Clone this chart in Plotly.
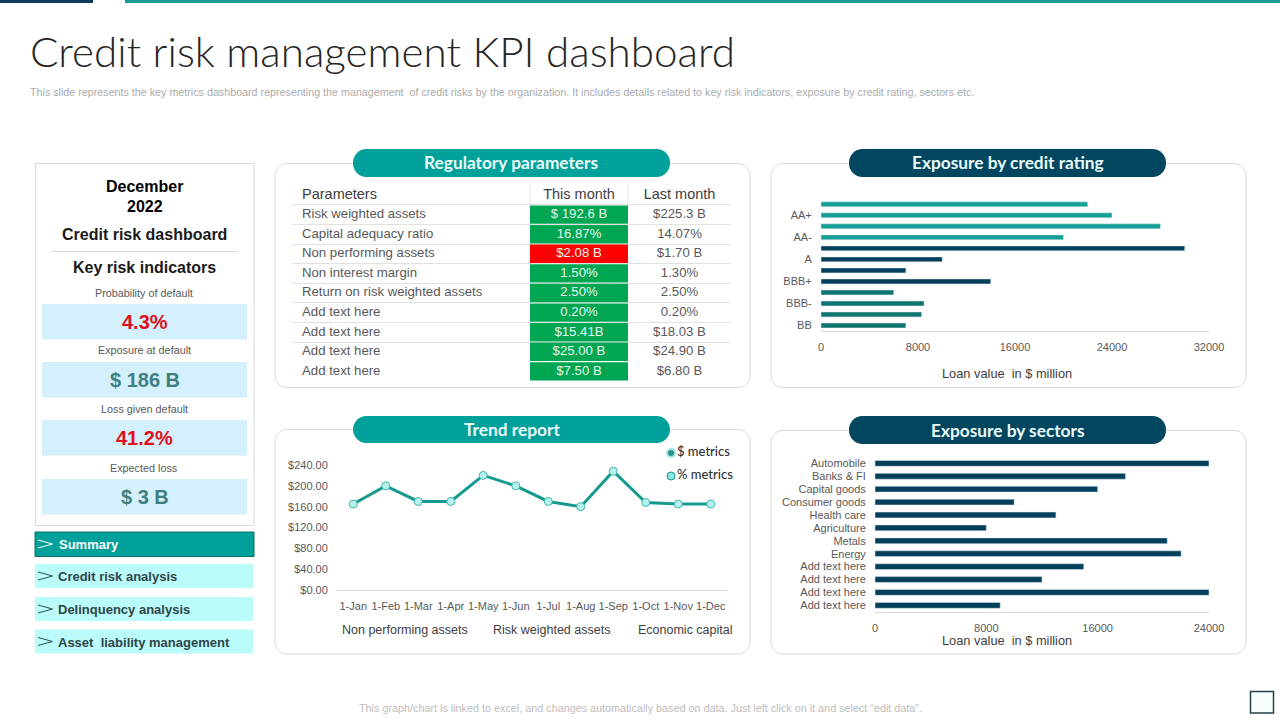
import plotly.graph_objects as go

W = 1280
H = 720

TEAL = '#00a19a'
NAVY = '#03465f'
GRAY = '#595959'
CARD = '#d9d9d9'
SANS = 'Liberation Sans'
ROUND = 'Lato'

# regulatory parameters table
table_headers = ['Parameters', 'This month', 'Last month']
table_params = ['Risk weighted assets', 'Capital adequacy ratio', 'Non performing assets', 'Non interest margin',
                'Return on risk weighted assets', 'Add text here', 'Add text here', 'Add text here', 'Add text here']
table_this_month = ['$ 192.6 B', '16.87%', '$2.08 B', '1.50%', '2.50%', '0.20%', '$15.41B', '$25.00 B', '$7.50 B']
table_last_month = ['$225.3 B', '14.07%', '$1.70 B', '1.30%', '2.50%', '0.20%', '$18.03 B', '$24.90 B', '$6.80 B']
table_status = ['good', 'good', 'bad', 'good', 'good', 'good', 'good', 'good', 'good']

# exposure by credit rating
ratings = ['AAA', 'AA+', 'AA', 'AA-', 'A+', 'A', 'A-', 'BBB+', 'BBB', 'BBB-', 'BB+', 'BB']
rating_values = [22000, 24000, 28000, 20000, 30000, 10000, 7000, 14000, 6000, 8500, 8300, 7000]
rating_ticks = [0, 8000, 16000, 24000, 32000]

# trend report
months = ['1-Jan', '1-Feb', '1-Mar', '1-Apr', '1-May', '1-Jun', '1-Jul', '1-Aug', '1-Sep', '1-Oct', '1-Nov', '1-Dec']
trend_values = [165, 200, 170, 170, 220, 200, 170, 160, 228, 168, 165, 165]
trend_ticks = [0, 40, 80, 120, 160, 200, 240]
trend_notes = ['Non performing assets', 'Risk weighted assets', 'Economic capital']
trend_keys = ['$ metrics', '% metrics']

# exposure by sectors
sectors = ['Automobile', 'Banks & FI', 'Capital goods', 'Consumer goods', 'Health care', 'Agriculture', 'Metals',
           'Energy', 'Add text here', 'Add text here', 'Add text here', 'Add text here']
sector_values = [24000, 18000, 16000, 10000, 13000, 8000, 21000, 22000, 15000, 12000, 24000, 9000]
sector_ticks = [0, 8000, 16000, 24000]

# key risk indicators
kri_labels = ['Probability of default', 'Exposure at default', 'Loss given default', 'Expected loss']
kri_values = ['4.3%', '$ 186 B', '41.2%', '$ 3 B']
nav_items = ['Summary', 'Credit risk analysis', 'Delinquency analysis', 'Asset  liability management']


def px(x):
    return x / W


def py(y):
    return 1 - y / H


def dom_x(x0, x1):
    return [px(x0), px(x1)]


def dom_y(y0, y1):
    return [py(y1), py(y0)]


shapes = []
annotations = []


def add_rect(x0, y0, x1, y1, fill, line=None, width=1):
    shapes.append(dict(type='rect', xref='paper', yref='paper', x0=px(x0), x1=px(x1), y0=py(y0), y1=py(y1),
                       fillcolor=fill, line=dict(color=line or fill, width=width if line else 0), layer='below'))


def add_round_rect(x0, y0, x1, y1, r, fill, line=None):
    k = r * 0.45
    path = 'M %f %f' % (px(x0 + r), py(y0))
    path += ' L %f %f' % (px(x1 - r), py(y0))
    path += ' C %f %f %f %f %f %f' % (px(x1 - k), py(y0), px(x1), py(y0 + k), px(x1), py(y0 + r))
    path += ' L %f %f' % (px(x1), py(y1 - r))
    path += ' C %f %f %f %f %f %f' % (px(x1), py(y1 - k), px(x1 - k), py(y1), px(x1 - r), py(y1))
    path += ' L %f %f' % (px(x0 + r), py(y1))
    path += ' C %f %f %f %f %f %f' % (px(x0 + k), py(y1), px(x0), py(y1 - k), px(x0), py(y1 - r))
    path += ' L %f %f' % (px(x0), py(y0 + r))
    path += ' C %f %f %f %f %f %f Z' % (px(x0), py(y0 + k), px(x0 + k), py(y0), px(x0 + r), py(y0))
    shapes.append(dict(type='path', xref='paper', yref='paper', path=path, fillcolor=fill,
                       line=dict(color=line or fill, width=1 if line else 0), layer='below'))


def add_line(x0, y0, x1, y1, color, width=1, layer='above'):
    shapes.append(dict(type='line', xref='paper', yref='paper', x0=px(x0), x1=px(x1), y0=py(y0), y1=py(y1),
                       line=dict(color=color, width=width), layer=layer))


def add_text(x, y, text, size, color, anchor='center', family=SANS, weight=400):
    annotations.append(dict(xref='paper', yref='paper', x=px(x), y=py(y), text=text, showarrow=False,
                            xanchor=anchor, yanchor='middle', align=anchor,
                            font=dict(family=family, size=size, color=color, weight=weight)))


# header
add_rect(0, 0, 93, 3, '#0b3c5d')
add_rect(125, 0, 1280, 3, '#159a94')
add_text(27.5, 50.5, 'Credit risk management KPI dashboard', 42.2, '#262626', 'left', ROUND, 300)
add_text(28, 92, 'This slide represents the key metrics dashboard representing the management  of credit risks by the '
                 'organization. It includes details related to key risk indicators, exposure by credit rating, '
                 'sectors etc.', 10.72, '#ababab', 'left')
add_text(640, 708, 'This graph/chart is linked to excel, and changes automatically based on data. Just left click on '
                   'it and select “edit data”.', 10.8, '#bdbdbd')
add_rect(1250.5, 691.5, 1273.5, 713, '#f8fefe', '#24404a', 1.5)

# left panel
add_rect(35.5, 163.5, 254, 525.5, 'white', CARD)
add_text(144.5, 187, 'December', 16, '#000000', weight=700)
add_text(144.5, 206, '2022', 16, '#000000', weight=700)
add_text(144.5, 235, 'Credit risk dashboard', 16, '#1a1a1a', weight=700)
add_line(51, 251.5, 238, 251.5, CARD)
add_text(144, 267.5, 'Key risk indicators', 16, '#1a1a1a', weight=700)

kri_tops = [304, 362, 420, 479]
kri_colors = ['#e01020', '#3f7f7f', '#e01020', '#3f7f7f']
for label, value, top, color in zip(kri_labels, kri_values, kri_tops, kri_colors):
    add_rect(42, top, 247, top + 35.5, '#d3f0fc')
    add_text(144, top - 11.5, label, 10.8, GRAY)
    add_text(144.5, top + 18, value, 20, color, weight=700)

nav_tops = [532, 564, 597, 629.5]
for i, (item, top) in enumerate(zip(nav_items, nav_tops)):
    if i == 0:
        add_rect(35, top, 254, top + 24.5, TEAL, '#0a6f6c', 1)
    else:
        add_rect(35, top, 253, top + 24, '#b9fcfa')
    arrow_color = 'white' if i == 0 else '#2f4f4f'
    path = 'M %f %f L %f %f L %f %f' % (px(38), py(top + 8), px(52.5), py(top + 12), px(38), py(top + 16))
    shapes.append(dict(type='path', xref='paper', yref='paper', path=path, line=dict(color=arrow_color, width=1)))
    add_text(57 if i == 0 else 56, top + 12.5, item, 13, 'white' if i == 0 else '#2f4548', 'left', weight=700)

# cards and their pills
card_boxes = [(275, 163.5, 750, 387.5), (771, 163.5, 1246, 387.5), (275, 429.5, 750, 654), (771, 430.5, 1246, 654)]
for box in card_boxes:
    add_round_rect(box[0], box[1], box[2], box[3], 12, 'white', CARD)

pills = [(353, 149, 670, 177, TEAL, 'Regulatory parameters'),
         (849, 149, 1166, 177, NAVY, 'Exposure by credit rating'),
         (353, 416, 670, 443, TEAL, 'Trend report'),
         (849, 416, 1166, 444, NAVY, 'Exposure by sectors')]
for x0, y0, x1, y1, color, text in pills:
    add_round_rect(x0, y0, x1, y1, 13.5, color)
    add_text((x0 + x1) / 2, (y0 + y1) / 2, text, 17.3, '#eafbfa', family=ROUND, weight=700)

# table header dividers
add_line(530, 183, 530, 204, '#e2e2e2')
add_line(628, 183, 628, 204, '#e2e2e2')

# table drawn on its own hidden axes: x in table pixels, y in rows (header is row -1)
rows = list(range(len(table_params)))
col_left = 238
col_mid = 98
col_right = 103
status_colors = {'good': '#00a651', 'bad': '#ff0000'}
table_cells = go.Bar(x=[col_mid] * len(rows), base=[col_left] * len(rows), y=rows, orientation='h', width=0.94,
                     marker_color=[status_colors[s] for s in table_status], marker_line_width=0,
                     xaxis='x4', yaxis='y4', showlegend=False)
table_col0 = go.Scatter(x=[10] * len(rows), y=rows, text=table_params, mode='text', textposition='middle right',
                        textfont=dict(family=SANS, size=13.2, color=GRAY), xaxis='x4', yaxis='y4', showlegend=False)
table_col1 = go.Scatter(x=[col_left + col_mid / 2] * len(rows), y=rows, text=table_this_month, mode='text',
                        textposition='middle center', textfont=dict(family=SANS, size=13.2, color='#e8f8ee'),
                        xaxis='x4', yaxis='y4', showlegend=False)
table_col2 = go.Scatter(x=[col_left + col_mid + col_right / 2] * len(rows), y=rows, text=table_last_month, mode='text',
                        textposition='middle center', textfont=dict(family=SANS, size=13.2, color=GRAY),
                        xaxis='x4', yaxis='y4', showlegend=False)
table_head = go.Scatter(x=[10, col_left + col_mid / 2, col_left + col_mid + col_right / 2], y=[-1, -1, -1],
                        text=table_headers, mode='text', textposition=['middle right', 'middle center', 'middle center'],
                        textfont=dict(family=SANS, size=14.5, color='#404040'), xaxis='x4', yaxis='y4', showlegend=False)

rating_colors = ['#139e96'] * 4 + ['#04405c'] * 4 + ['#0f7570'] * 4
rating_bar = go.Bar(x=rating_values, y=ratings, orientation='h', marker_color=rating_colors, xaxis='x', yaxis='y',
                    showlegend=False)

trend_line = go.Scatter(x=months, y=trend_values, mode='lines+markers', xaxis='x2', yaxis='y2', showlegend=False,
                        line=dict(color='#159a8f', width=3),
                        marker=dict(size=8, color='#b5f3ee', line=dict(color='#3fb5ab', width=1)))

# key next to the trend line, on hidden axes so the glyph sits tight against its label
trend_key = go.Scatter(x=[0, 0], y=trend_keys, text=trend_keys, mode='markers+text', textposition='middle right',
                       textfont=dict(family=ROUND, size=13, color='#333333', weight=500), xaxis='x5', yaxis='y5',
                       showlegend=False,
                       marker=dict(size=8, color=['#2f8f8c', '#8fe6e0'],
                                   line=dict(color=['#9fe8e4', '#159a8f'], width=[2, 1])))

sector_bar = go.Bar(x=sector_values, y=list(range(len(sectors))), orientation='h', marker_color='#04405c', xaxis='x3',
                    yaxis='y3', showlegend=False)

for x, note in zip([404.5, 551.5, 685.5], trend_notes):
    add_text(x, 630, note, 12.5, '#404040')
add_text(1007, 373.5, 'Loan value  in $ million', 12.8, '#404040')
add_text(1007, 640.5, 'Loan value  in $ million', 12.8, '#404040')

tick_font = dict(family=SANS, size=11, color=GRAY)
tick_common = dict(ticks='outside', ticklen=6, tickcolor='rgba(0,0,0,0)', tickfont=tick_font, showgrid=False,
                   zeroline=False, fixedrange=True)

fig = go.Figure(data=[table_cells, rating_bar, sector_bar, trend_line, trend_key,
                      table_col0, table_col1, table_col2, table_head])
fig.update_layout(
    width=W, height=H, margin=dict(l=0, r=0, t=0, b=0, autoexpand=False), paper_bgcolor='white',
    plot_bgcolor='rgba(0,0,0,0)', bargap=0.55, shapes=shapes, annotations=annotations, showlegend=False,
    xaxis=dict(domain=dom_x(821, 1209), range=[0, 32000], tickvals=rating_ticks, tickformat='d', showline=True,
               linecolor=CARD, anchor='y', **tick_common),
    yaxis=dict(domain=dom_y(198.8, 331), categoryorder='array', categoryarray=ratings, range=[11.5, -0.5],
               tickvals=ratings[1::2], anchor='x', **tick_common),
    xaxis2=dict(domain=dom_x(337, 727), categoryorder='array', categoryarray=months, range=[-0.5, 11.5],
                showline=True, linecolor=CARD, anchor='y2', **tick_common),
    yaxis2=dict(domain=dom_y(465, 590), range=[0, 240], tickvals=trend_ticks, tickformat='$.2f',
                anchor='x2', **tick_common),
    xaxis3=dict(domain=dom_x(875, 1209), range=[0, 24000], tickvals=sector_ticks, tickformat='d', showline=True,
                linecolor=CARD, anchor='y3', **tick_common),
    yaxis3=dict(domain=dom_y(456.9, 611.8), range=[11.5, -0.5], tickvals=list(range(len(sectors))), ticktext=sectors,
                anchor='x3', **tick_common),
    xaxis4=dict(domain=dom_x(292, 731), range=[0, col_left + col_mid + col_right], visible=False, fixedrange=True,
                anchor='y4'),
    yaxis4=dict(domain=dom_y(185.2, 381.2), range=[8.5, -1.5], anchor='x4', showgrid=True, gridcolor='#e2e2e2',
                tickvals=[r - 0.5 for r in rows[:-1]], showticklabels=False, zeroline=False,
                fixedrange=True, ticks=''),
    xaxis5=dict(domain=dom_x(661, 748), range=[-10, 77], visible=False, fixedrange=True, anchor='y5'),
    yaxis5=dict(domain=dom_y(441.5, 487.5), categoryorder='array', categoryarray=trend_keys, range=[1.5, -0.5],
                visible=False, fixedrange=True, anchor='x5'),
)

fig.write_html("out.html", config=dict(displayModeBar=False), post_script="document.body.style.margin = '0';")
